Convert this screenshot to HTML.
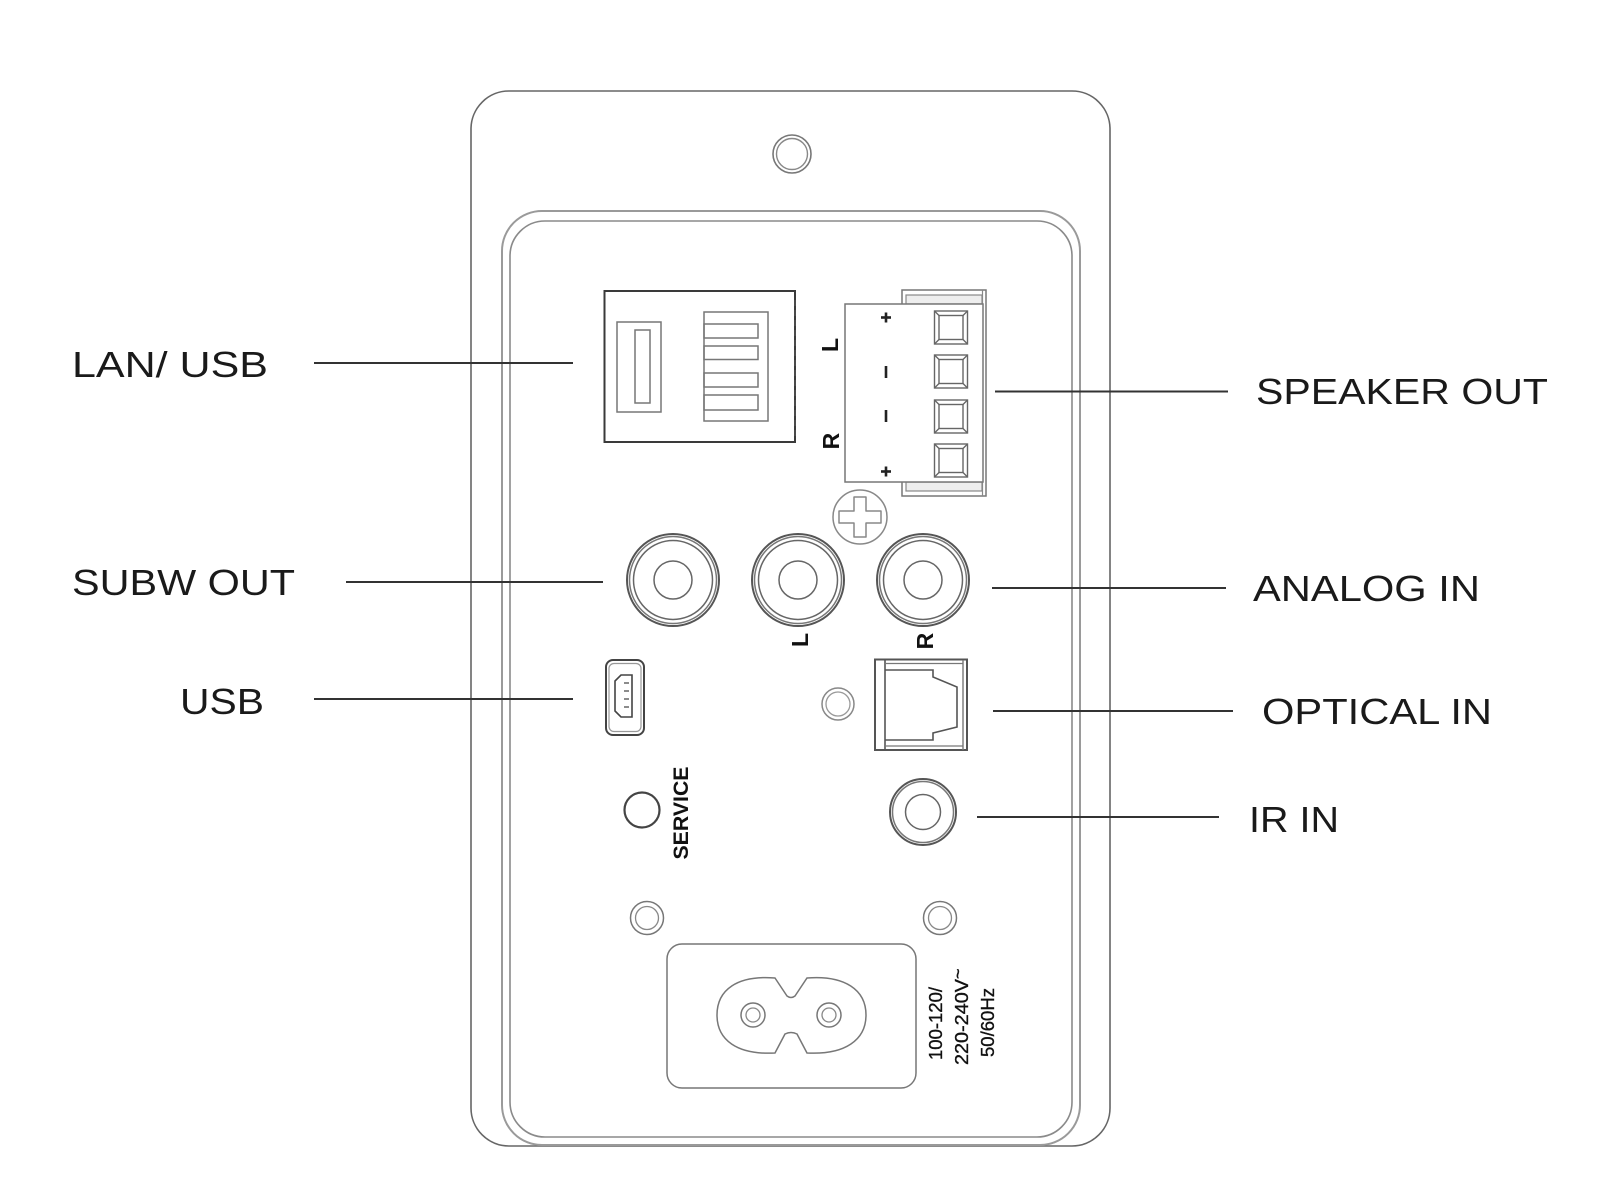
<!DOCTYPE html>
<html>
<head>
<meta charset="utf-8">
<style>
  html,body{margin:0;padding:0;background:#fff;}
  svg{display:block;}
  .lbl{font-family:"Liberation Sans",Arial,sans-serif;font-size:36px;fill:#1a1a1a;}
  .bold{font-family:"Liberation Sans",Arial,sans-serif;font-weight:bold;fill:#111;}
  .volt{font-family:"Liberation Sans",Arial,sans-serif;font-size:18px;fill:#111;stroke:#111;stroke-width:0.35;}
</style>
</head>
<body>
<svg width="1600" height="1200" viewBox="0 0 1600 1200" xmlns="http://www.w3.org/2000/svg">
  <rect x="0" y="0" width="1600" height="1200" fill="#ffffff"/>

  <!-- Outer panel -->
  <rect x="471" y="91" width="639" height="1055" rx="38" ry="38" fill="none" stroke="#666" stroke-width="1.6"/>
  <!-- Inner panel double line -->
  <rect x="502" y="211" width="578" height="934" rx="40" ry="40" fill="none" stroke="#9a9a9a" stroke-width="2"/>
  <rect x="510" y="221" width="562" height="916" rx="35" ry="35" fill="none" stroke="#8a8a8a" stroke-width="1.6"/>

  <!-- Top hole -->
  <circle cx="792" cy="154" r="19" fill="none" stroke="#777" stroke-width="1.6"/>
  <circle cx="792" cy="154" r="15.5" fill="none" stroke="#888" stroke-width="1.4"/>

  <!-- LAN / USB block -->
  <rect x="604.5" y="291" width="190.5" height="151" fill="none" stroke="#3a3a3a" stroke-width="2"/>
  <line x1="795" y1="300" x2="795" y2="440" stroke="#555" stroke-width="1.2" stroke-dasharray="6 4"/>
  <rect x="617" y="322" width="44" height="90" fill="none" stroke="#777" stroke-width="1.5"/>
  <rect x="635" y="330" width="15" height="73" fill="none" stroke="#777" stroke-width="1.5"/>
  <rect x="704" y="312" width="64" height="109" fill="none" stroke="#777" stroke-width="1.5"/>
  <rect x="704" y="324" width="54" height="14" fill="none" stroke="#777" stroke-width="1.5"/>
  <rect x="704" y="346" width="54" height="13.5" fill="none" stroke="#777" stroke-width="1.5"/>
  <rect x="704" y="373" width="54" height="14" fill="none" stroke="#777" stroke-width="1.5"/>
  <rect x="704" y="395" width="54" height="15" fill="none" stroke="#777" stroke-width="1.5"/>

  <!-- Speaker connector -->
  <rect x="902" y="290" width="84" height="206" fill="none" stroke="#777" stroke-width="1.5"/>
  <rect x="906" y="295" width="76" height="9" fill="#eee" stroke="#888" stroke-width="1.2"/>
  <rect x="906" y="482" width="76" height="9" fill="#eee" stroke="#888" stroke-width="1.2"/>
  <line x1="982.5" y1="290" x2="982.5" y2="496" stroke="#888" stroke-width="1.2"/>
  <rect x="845" y="304" width="138" height="178" fill="#fff" stroke="#777" stroke-width="1.5"/>
  <g fill="none" stroke="#666" stroke-width="1.4">
    <rect x="934.5" y="311" width="33" height="33"/>
    <rect x="939" y="315.5" width="24" height="24"/>
    <path d="M934.5 311 L939 315.5 M967.5 311 L963 315.5 M934.5 344 L939 339.5 M967.5 344 L963 339.5"/>
    <rect x="934.5" y="355" width="33" height="33"/>
    <rect x="939" y="359.5" width="24" height="24"/>
    <path d="M934.5 355 L939 359.5 M967.5 355 L963 359.5 M934.5 388 L939 383.5 M967.5 388 L963 383.5"/>
    <rect x="934.5" y="400" width="33" height="33"/>
    <rect x="939" y="404.5" width="24" height="24"/>
    <path d="M934.5 400 L939 404.5 M967.5 400 L963 404.5 M934.5 433 L939 428.5 M967.5 433 L963 428.5"/>
    <rect x="934.5" y="444" width="33" height="33"/>
    <rect x="939" y="448.5" width="24" height="24"/>
    <path d="M934.5 444 L939 448.5 M967.5 444 L963 448.5 M934.5 477 L939 472.5 M967.5 477 L963 472.5"/>
  </g>
  <g stroke="#222" stroke-width="2.6" stroke-linecap="butt">
    <line x1="881" y1="317.5" x2="891" y2="317.5"/>
    <line x1="886" y1="312.5" x2="886" y2="322.5"/>
    <line x1="886" y1="366" x2="886" y2="378"/>
    <line x1="886" y1="410" x2="886" y2="422"/>
    <line x1="881" y1="471.5" x2="891" y2="471.5"/>
    <line x1="886" y1="466.5" x2="886" y2="476.5"/>
  </g>
  <text class="bold" font-size="23" text-anchor="middle" transform="translate(838,345) rotate(-90)">L</text>
  <text class="bold" font-size="23" text-anchor="middle" transform="translate(839,441) rotate(-90)">R</text>

  <!-- Screw -->
  <circle cx="860" cy="517" r="27" fill="none" stroke="#888" stroke-width="1.5"/>
  <path d="M854 497 L866 497 L866 511 L881 511 L881 523 L866 523 L866 537 L854 537 L854 523 L839 523 L839 511 L854 511 Z" fill="none" stroke="#888" stroke-width="1.5" stroke-linejoin="round"/>

  <!-- RCA jacks -->
  <g fill="none">
    <circle cx="673" cy="580" r="46" stroke="#555" stroke-width="2"/>
    <circle cx="673" cy="580" r="43.5" stroke="#777" stroke-width="1.5"/>
    <circle cx="673" cy="580" r="39.5" stroke="#666" stroke-width="1.5"/>
    <circle cx="673" cy="580" r="19" stroke="#666" stroke-width="1.5"/>
    <circle cx="798" cy="580" r="46" stroke="#555" stroke-width="2"/>
    <circle cx="798" cy="580" r="43.5" stroke="#777" stroke-width="1.5"/>
    <circle cx="798" cy="580" r="39.5" stroke="#666" stroke-width="1.5"/>
    <circle cx="798" cy="580" r="19" stroke="#666" stroke-width="1.5"/>
    <circle cx="923" cy="580" r="46" stroke="#555" stroke-width="2"/>
    <circle cx="923" cy="580" r="43.5" stroke="#777" stroke-width="1.5"/>
    <circle cx="923" cy="580" r="39.5" stroke="#666" stroke-width="1.5"/>
    <circle cx="923" cy="580" r="19" stroke="#666" stroke-width="1.5"/>
  </g>
  <text class="bold" font-size="23" text-anchor="middle" transform="translate(808,640) rotate(-90)">L</text>
  <text class="bold" font-size="23" text-anchor="middle" transform="translate(933,641) rotate(-90)">R</text>

  <!-- Mini USB -->
  <rect x="606" y="660" width="38" height="75" rx="7" fill="none" stroke="#444" stroke-width="2"/>
  <rect x="609" y="663.5" width="32" height="68" rx="5" fill="none" stroke="#999" stroke-width="1.2"/>
  <path d="M632 675 L621 675 L615 681 L615 711 L621 717 L632 717 Z" fill="none" stroke="#444" stroke-width="1.6"/>
  <g stroke="#666" stroke-width="1.5">
    <line x1="624" y1="683" x2="629" y2="683"/>
    <line x1="624" y1="691" x2="629" y2="691"/>
    <line x1="624" y1="699" x2="629" y2="699"/>
    <line x1="624" y1="707" x2="629" y2="707"/>
  </g>

  <!-- Small hole near optical -->
  <circle cx="838" cy="704" r="16" fill="none" stroke="#888" stroke-width="1.5"/>
  <circle cx="838" cy="704" r="12" fill="none" stroke="#999" stroke-width="1.3"/>

  <!-- Optical -->
  <rect x="875" y="659.5" width="92" height="90.5" fill="none" stroke="#555" stroke-width="2"/>
  <line x1="885" y1="660" x2="885" y2="750" stroke="#555" stroke-width="1.6"/>
  <line x1="963" y1="660" x2="963" y2="750" stroke="#777" stroke-width="1.4"/>
  <line x1="885" y1="663.5" x2="963" y2="663.5" stroke="#777" stroke-width="1.3"/>
  <line x1="885" y1="746" x2="963" y2="746" stroke="#777" stroke-width="1.3"/>
  <path d="M885 670 L933 670 L933 677 L957 687 L957 727 L933 733 L933 740 L885 740" fill="none" stroke="#555" stroke-width="1.6"/>

  <!-- Service button -->
  <circle cx="642" cy="810" r="17.5" fill="none" stroke="#444" stroke-width="2.2"/>
  <text class="bold" font-size="21" text-anchor="middle" textLength="93" lengthAdjust="spacingAndGlyphs" transform="translate(688,813) rotate(-90)">SERVICE</text>

  <!-- IR jack -->
  <circle cx="923" cy="812" r="33" fill="none" stroke="#555" stroke-width="2"/>
  <circle cx="923" cy="812" r="30.5" fill="none" stroke="#777" stroke-width="1.5"/>
  <circle cx="923" cy="812" r="17.5" fill="none" stroke="#666" stroke-width="1.5"/>

  <!-- Bottom holes -->
  <circle cx="647" cy="918" r="16.5" fill="none" stroke="#777" stroke-width="1.5"/>
  <circle cx="647" cy="918" r="11.5" fill="none" stroke="#888" stroke-width="1.3"/>
  <circle cx="940" cy="918" r="16.5" fill="none" stroke="#777" stroke-width="1.5"/>
  <circle cx="940" cy="918" r="11.5" fill="none" stroke="#888" stroke-width="1.3"/>

  <!-- Power inlet -->
  <rect x="667" y="944" width="249" height="144" rx="15" ry="15" fill="none" stroke="#777" stroke-width="1.5"/>
  <path d="M775 978 L787 996 Q791 999 795 996 L807 978 C845 975 866 990 866 1015 C866 1040 845 1055 807 1053 L797 1034 Q791 1031 785 1034 L775 1053 C737 1055 717 1040 717 1015 C717 990 737 975 775 978 Z" fill="none" stroke="#777" stroke-width="1.5"/>
  <circle cx="753" cy="1015" r="12" fill="none" stroke="#777" stroke-width="1.5"/>
  <circle cx="753" cy="1015" r="7" fill="none" stroke="#888" stroke-width="1.3"/>
  <circle cx="829" cy="1015" r="12" fill="none" stroke="#777" stroke-width="1.5"/>
  <circle cx="829" cy="1015" r="7" fill="none" stroke="#888" stroke-width="1.3"/>

  <!-- Voltage text -->
  <text class="volt" textLength="73" lengthAdjust="spacingAndGlyphs" transform="translate(942,1060) rotate(-90)">100-120/</text>
  <text class="volt" textLength="86" lengthAdjust="spacingAndGlyphs" transform="translate(968,1065) rotate(-90)">220-240V</text>
  <text class="volt" font-size="16" transform="translate(964,979) rotate(-90)">~</text>
  <text class="volt" textLength="69" lengthAdjust="spacingAndGlyphs" transform="translate(994,1057) rotate(-90)">50/60Hz</text>

  <!-- Leader lines -->
  <g stroke="#333" stroke-width="2">
    <line x1="314" y1="363" x2="573" y2="363"/>
    <line x1="346" y1="582" x2="603" y2="582"/>
    <line x1="314" y1="699" x2="573" y2="699"/>
    <line x1="995" y1="391.5" x2="1228" y2="391.5"/>
    <line x1="992" y1="588" x2="1226" y2="588"/>
    <line x1="993" y1="711" x2="1233" y2="711"/>
    <line x1="977" y1="817" x2="1219" y2="817"/>
  </g>

  <!-- Labels -->
  <text class="lbl" x="72" y="377" textLength="196" lengthAdjust="spacingAndGlyphs">LAN/ USB</text>
  <text class="lbl" x="72" y="595" textLength="223" lengthAdjust="spacingAndGlyphs">SUBW OUT</text>
  <text class="lbl" x="180" y="714" textLength="84" lengthAdjust="spacingAndGlyphs">USB</text>
  <text class="lbl" x="1256" y="404" textLength="292" lengthAdjust="spacingAndGlyphs">SPEAKER OUT</text>
  <text class="lbl" x="1253" y="601" textLength="227" lengthAdjust="spacingAndGlyphs">ANALOG IN</text>
  <text class="lbl" x="1262" y="724" textLength="230" lengthAdjust="spacingAndGlyphs">OPTICAL IN</text>
  <text class="lbl" x="1249" y="832" textLength="90" lengthAdjust="spacingAndGlyphs">IR IN</text>
</svg>
</body>
</html>
